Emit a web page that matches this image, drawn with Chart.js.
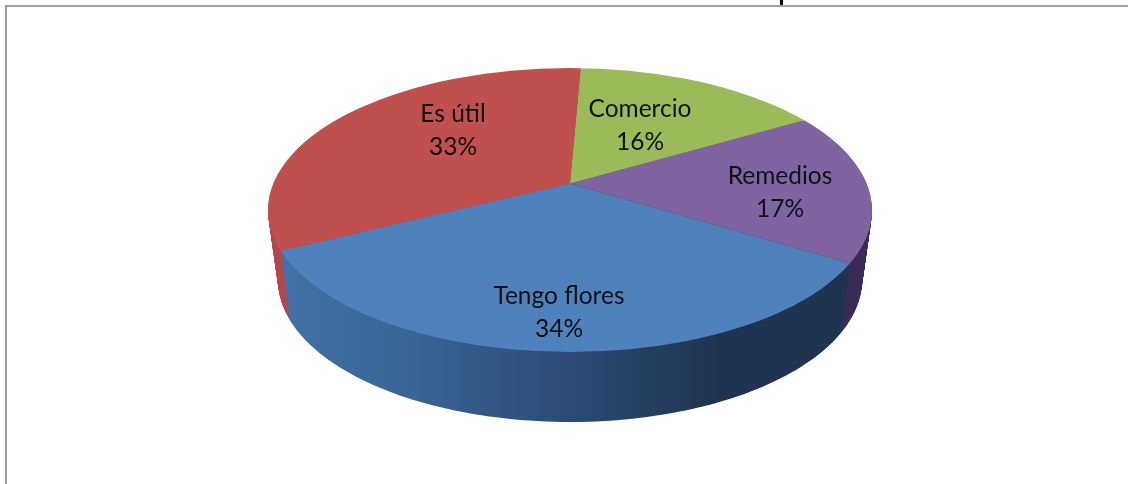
<!DOCTYPE html>
<html>
<head>
<meta charset="utf-8">
<style>
  html, body { margin: 0; padding: 0; background: #fff; }
  canvas { display: block; }
</style>
<script src="https://cdn.jsdelivr.net/npm/chart.js@4/dist/chart.umd.min.js"></script>
</head>
<body>
<canvas id="pie" width="1128" height="484"></canvas>
<script>
// clockwise from the top
const categories = ['Comercio', 'Remedios', 'Tengo flores', 'Es útil'];
const shares = [16, 17, 34, 33];
const topColors = ['#9bbb59', '#8064a2', '#4f81bd', '#c0504d'];

// side wall shading, left to right
const wallColors = [
  ['#6f8a3f', '#6f8a3f'],
  ['#3b2d60', '#3a2a58'],
  ['#4272a8', '#376494', '#2b4a75', '#1f3450', '#1e3552'],
  ['#b8454a', '#a03a48'],
];

const K = 0.47;                 // tilt of the disc
const APEX = { x: 570, y: 183.5 };
const TOP_RIM = { x: 570, y: 210, rx: 302, ry: 142 };
const BOTTOM_RIM_RX = 292;
const DEPTH = 70;
const DISC_RADIUS = 380;

const labelCenters = [[640, 125], [780, 192], [559, 312], [453, 130]];

// where a ray leaving the apex meets the rim ellipse
function rimPoint(angle, rim, apex) {
  const dx = Math.cos(angle), dy = Math.sin(angle) * K;
  const ox = (apex.x - rim.x) / rim.rx, oy = (apex.y - rim.y) / rim.ry;
  const ux = dx / rim.rx, uy = dy / rim.ry;
  const a = ux * ux + uy * uy;
  const b = 2 * (ox * ux + oy * uy);
  const c = ox * ox + oy * oy - 1;
  const t = (-b + Math.sqrt(b * b - 4 * a * c)) / (2 * a);
  return { x: apex.x + dx * t, y: apex.y + dy * t };
}

const pie3d = {
  id: 'pie3d',
  beforeDatasetsDraw(chart) {
    const { ctx } = chart;
    const arcs = chart.getDatasetMeta(0).data;

    const grads = wallColors.map(stops => {
      const grad = ctx.createLinearGradient(268, 0, 872, 0);
      stops.forEach((c, n) => grad.addColorStop(n / (stops.length - 1), c));
      return grad;
    });

    // side wall: stack the sectors from the bottom rim up to the top one
    for (let d = DEPTH; d > 0; d--) {
      const apex = { x: APEX.x, y: APEX.y + d };
      const rim = {
        x: TOP_RIM.x,
        y: TOP_RIM.y + d,
        rx: TOP_RIM.rx + (BOTTOM_RIM_RX - TOP_RIM.rx) * d / DEPTH,
        ry: TOP_RIM.ry,
      };
      arcs.forEach((arc, i) => {
        const steps = 90;
        ctx.beginPath();
        ctx.moveTo(apex.x, apex.y);
        for (let s = 0; s <= steps; s++) {
          const p = rimPoint(arc.startAngle + (arc.endAngle - arc.startAngle) * s / steps, rim, apex);
          ctx.lineTo(p.x, p.y);
        }
        ctx.closePath();
        ctx.fillStyle = grads[i];
        ctx.fill();
      });
    }

    // the slices come out as a large tilted disc, trimmed to the top rim
    const R = arcs[0].outerRadius;
    const s = DISC_RADIUS / R;
    ctx.save();
    ctx.beginPath();
    ctx.ellipse(TOP_RIM.x, TOP_RIM.y, TOP_RIM.rx, TOP_RIM.ry, 0, 0, Math.PI * 2);
    ctx.clip();
    ctx.translate(APEX.x, APEX.y);
    ctx.scale(s, s * K);
    ctx.translate(-arcs[0].x, -arcs[0].y);
  },
  afterDatasetsDraw(chart) {
    const { ctx } = chart;
    ctx.restore();

    ctx.fillStyle = '#111';
    ctx.font = '24.5px Lato';
    ctx.textAlign = 'center';
    ctx.textBaseline = 'middle';
    categories.forEach((name, i) => {
      const [x, y] = labelCenters[i];
      ctx.fillText(name, x, y - 16);
      ctx.fillText(shares[i] + '%', x, y + 17);
    });

    // frame and the cut-off bit of the title
    ctx.fillStyle = '#a0a0a0';
    ctx.fillRect(5, 5, 1123, 2);
    ctx.fillRect(5, 5, 2, 479);
    ctx.fillStyle = '#000';
    ctx.fillRect(780, 0, 3, 5);
  }
};

new Chart(document.getElementById('pie'), {
  type: 'pie',
  data: {
    labels: categories,
    datasets: [{
      data: shares,
      backgroundColor: topColors,
      borderWidth: 0,
    }]
  },
  options: {
    responsive: false,
    animation: false,
    rotation: 2.5,
    plugins: {
      legend: { display: false },
      tooltip: { enabled: false },
    }
  },
  plugins: [pie3d]
});
</script>
</body>
</html>
